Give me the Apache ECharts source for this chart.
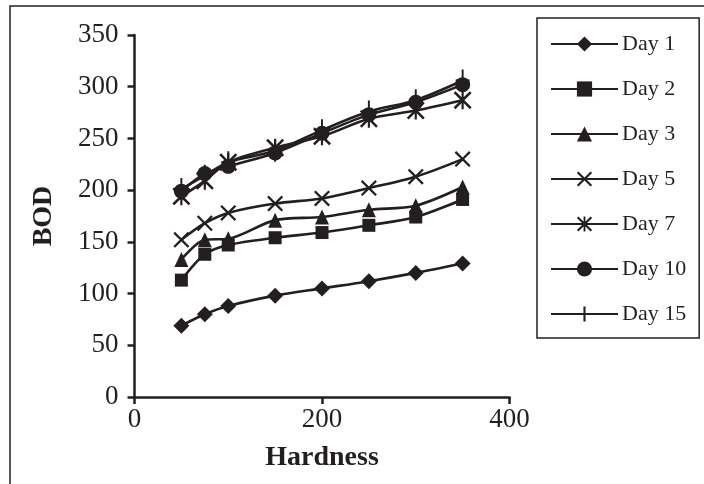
<!DOCTYPE html>
<html>
<head>
<meta charset="utf-8">
<script src="https://cdn.jsdelivr.net/npm/echarts@6/dist/echarts.min.js"></script>
<style>
html,body{margin:0;padding:0;background:#fff;}
#chart{width:704px;height:484px;}
</style>
</head>
<body>
<div id="chart"></div>
<script>
var hardness = [50, 75, 100, 150, 200, 250, 300, 350];
var seriesNames = ['Day 1', 'Day 2', 'Day 3', 'Day 5', 'Day 7', 'Day 10', 'Day 15'];
var day1  = [69, 80, 88, 98, 105, 112, 120, 129];
var day2  = [113, 138, 147, 154, 159, 166, 174, 191];
var day3  = [133, 152, 153, 171, 174, 181, 185, 203];
var day5  = [152, 168, 178, 187, 192, 202, 213, 230];
var day7  = [194, 209, 227, 241, 252, 269, 277, 287];
var day10 = [199, 216, 223, 236, 255, 273, 285, 302];
var day15 = [201, 214, 227, 238, 258, 276, 287, 306];
var xTicks = [0, 200, 400];
var yTicks = [0, 50, 100, 150, 200, 250, 300, 350];

var INK = '#231f20';
var FONT = '"Liberation Serif", "Times New Roman", serif';

var X_PATH = 'path://M0,1L1,0L5,4L9,0L10,1L6,5L10,9L9,10L5,6L1,10L0,9L4,5Z';
var STAR_PATH = 'path://M0,1L1,0L5,4L9,0L10,1L6,5L10,9L9,10L5,6L1,10L0,9L4,5ZM4.4,0L5.6,0L5.6,10L4.4,10Z';
var PLUS_PATH = 'path://M4.3,0L5.7,0L5.7,4.55L10,4.55L10,5.45L5.7,5.45L5.7,10L4.3,10L4.3,5.45L0,5.45L0,4.55L4.3,4.55Z';

var allData = [day1, day2, day3, day5, day7, day10, day15];
var symbols = ['diamond', 'rect', 'triangle', X_PATH, STAR_PATH, 'circle', PLUS_PATH];
var sizes = [[16, 16], [13, 13], [14, 15], [16, 16], [18, 18], [15, 15], [14, 22]];

function pairs(ys) {
  return hardness.map(function (x, i) { return [x, ys[i]]; });
}

var series = seriesNames.map(function (name, i) {
  return {
    name: name,
    type: 'line',
    data: pairs(allData[i]),
    smooth: 0.3,
    symbol: symbols[i],
    symbolSize: sizes[i],
    showAllSymbol: true,
    lineStyle: { color: INK, width: 2.6 },
    itemStyle: { color: INK, borderColor: INK, borderWidth: 0, opacity: 1 },
    emphasis: { disabled: true },
    animation: false,
    z: 2 + i
  };
});

var chart = echarts.init(document.getElementById('chart'), null, { renderer: 'canvas' });
chart.setOption({
  backgroundColor: '#ffffff',
  animation: false,
  graphic: [{
    type: 'rect',
    shape: { x: 10, y: 6, width: 800, height: 600 },
    style: { fill: 'none', stroke: INK, lineWidth: 1.5 },
    z: -1,
    silent: true
  }],
  grid: { left: 134.5, right: 194.5, top: 35, bottom: 87 },
  xAxis: {
    type: 'value',
    min: xTicks[0],
    max: xTicks[xTicks.length - 1],
    interval: xTicks[1] - xTicks[0],
    name: 'Hardness',
    nameLocation: 'middle',
    nameGap: 47,
    nameTextStyle: { fontFamily: FONT, fontSize: 28, fontWeight: 'bold', color: INK },
    axisLine: { show: true, onZero: false, lineStyle: { color: INK, width: 2.5 } },
    axisTick: { show: true, inside: false, length: 7, lineStyle: { color: INK, width: 2.5 } },
    axisLabel: { fontFamily: FONT, fontSize: 27, color: INK, margin: 9 },
    splitLine: { show: false }
  },
  yAxis: {
    type: 'value',
    min: yTicks[0],
    max: yTicks[yTicks.length - 1],
    interval: yTicks[1] - yTicks[0],
    name: 'BOD',
    nameLocation: 'middle',
    nameGap: 77,
    nameRotate: 90,
    nameTextStyle: { fontFamily: FONT, fontSize: 28, fontWeight: 'bold', color: INK },
    axisLine: { show: true, onZero: false, lineStyle: { color: INK, width: 2.5 } },
    axisTick: { show: true, inside: false, length: 7, lineStyle: { color: INK, width: 2.5 } },
    axisLabel: { fontFamily: FONT, fontSize: 27, color: INK, margin: 16 },
    splitLine: { show: false }
  },
  legend: {
    data: seriesNames,
    orient: 'vertical',
    left: 537,
    top: 18,
    padding: [15, 13, 13, 13],
    itemWidth: 67,
    itemHeight: 19,
    itemGap: 23,
    selectedMode: false,
    borderColor: INK,
    borderWidth: 1.5,
    backgroundColor: '#ffffff',
    textStyle: { fontFamily: FONT, fontSize: 22, color: INK, padding: [0, 0, 0, -1] }
  },
  series: series
});
</script>
</body>
</html>
